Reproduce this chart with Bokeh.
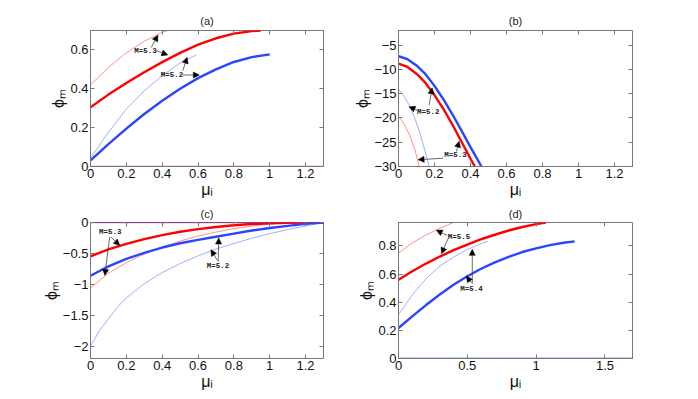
from bokeh.plotting import figure
from bokeh.models import Range1d, FixedTicker, LinearAxis, Arrow, NormalHead, Label
from bokeh.layouts import column, row
from bokeh.embed import file_html
from bokeh.resources import INLINE

# ---------------- data ----------------
# Panel (a)
a_thin_red_x = [0, 0.1, 0.2, 0.3, 0.4, 0.43]
a_thin_red_y = [0.42, 0.51, 0.585, 0.645, 0.69, 0.70]
a_thick_red_x = [0, 0.1, 0.2, 0.3, 0.4, 0.5, 0.6, 0.7, 0.8, 0.9, 0.95]
a_thick_red_y = [0.305, 0.37, 0.43, 0.485, 0.537, 0.585, 0.627, 0.66, 0.684, 0.697, 0.70]
a_thin_blue_x = [0, 0.1, 0.2, 0.3, 0.4, 0.5, 0.59]
a_thin_blue_y = [0.043, 0.176, 0.296, 0.39, 0.467, 0.533, 0.574]
a_thick_blue_x = [0, 0.1, 0.2, 0.3, 0.4, 0.5, 0.6, 0.7, 0.8, 0.9, 1.0]
a_thick_blue_y = [0.031, 0.115, 0.195, 0.27, 0.338, 0.4, 0.455, 0.5, 0.538, 0.563, 0.577]
a_zero_x = [0, 1.3]
a_zero_y = [0, 0]
a_xticks = [0, 0.2, 0.4, 0.6, 0.8, 1.0, 1.2]
a_xlabels = ["0", "0.2", "0.4", "0.6", "0.8", "1", "1.2"]
a_yticks = [0, 0.2, 0.4, 0.6]
a_ylabels = ["0", "0.2", "0.4", "0.6"]
a_text = [("M=5.3", 0.307, 0.592), ("M=5.2", 0.455, 0.471)]
a_arrows = [(0.339, 0.613, 0.376, 0.676), (0.367, 0.596, 0.431, 0.574),
            (0.515, 0.493, 0.539, 0.562), (0.515, 0.471, 0.607, 0.471)]

# Panel (b)
b_thin_red_x = [0, 0.03, 0.06, 0.09, 0.115]
b_thin_red_y = [-19.7, -21.2, -23.4, -26.4, -30]
b_thick_red_x = [0, 0.05, 0.1, 0.15, 0.2, 0.25, 0.3, 0.35, 0.4, 0.424]
b_thick_red_y = [-8.8, -9.5, -10.9, -12.8, -15.3, -18.2, -21.4, -24.9, -28.4, -30]
b_thin_blue_x = [0, 0.03, 0.06, 0.09, 0.12, 0.15, 0.17]
b_thin_blue_y = [-14.1, -15.5, -17.4, -20.0, -23.2, -27.2, -30]
b_thick_blue_x = [0, 0.05, 0.1, 0.15, 0.2, 0.25, 0.3, 0.35, 0.4, 0.461]
b_thick_blue_y = [-7.3, -7.9, -9.2, -11.0, -13.4, -16.2, -19.3, -22.6, -26.0, -30]
b_xticks = [0, 0.2, 0.4, 0.6, 0.8, 1.0, 1.2]
b_xlabels = ["0", "0.2", "0.4", "0.6", "0.8", "1", "1.2"]
b_yticks = [-30, -25, -20, -15, -10, -5]
b_ylabels = ["\u221230", "\u221225", "\u221220", "\u221215", "\u221210", "\u22125"]
b_text = [("M=5.2", 0.165, -18.8), ("M=5.3", 0.317, -27.6)]
b_arrows = [(0.104, -18.4, 0.059, -17.7), (0.17, -17.4, 0.187, -13.8),
            (0.248, -28.3, 0.109, -28.6), (0.322, -26.9, 0.337, -24.8)]

# Panel (c)
c_x = [0, 0.1, 0.2, 0.3, 0.4, 0.5, 0.6, 0.7, 0.8, 0.9, 1.0, 1.1, 1.2, 1.3]
c_thick_red_y = [-0.547, -0.435, -0.345, -0.27, -0.205, -0.15, -0.108, -0.072, -0.045, -0.025, -0.012, -0.004, 0, 0]
c_thick_blue_y = [-0.862, -0.71, -0.59, -0.49, -0.405, -0.335, -0.28, -0.23, -0.18, -0.13, -0.09, -0.055, -0.022, 0]
c_thin_red_y = [-1.06, -0.82, -0.65, -0.51, -0.4, -0.3, -0.22, -0.155, -0.1, -0.058, -0.025, -0.005, 0, 0]
c_thin_blue_x = [0, 0.05, 0.1, 0.15, 0.2, 0.3, 0.4, 0.5, 0.6, 0.7, 0.8, 0.9, 1.0, 1.1, 1.2, 1.3]
c_thin_blue_y = [-2.0, -1.75, -1.56, -1.37, -1.22, -0.99, -0.81, -0.665, -0.54, -0.43, -0.34, -0.255, -0.18, -0.115, -0.055, 0]
c_zero_x = [0, 1.3]
c_zero_y = [0, 0]
c_xticks = [0, 0.2, 0.4, 0.6, 0.8, 1.0, 1.2]
c_xlabels = ["0", "0.2", "0.4", "0.6", "0.8", "1", "1.2"]
c_yticks = [-2, -1.5, -1, -0.5, 0]
c_ylabels = ["\u22122", "\u22121.5", "\u22121", "\u22120.5", "0"]
c_text = [("M=5.3", 0.11, -0.152), ("M=5.2", 0.712, -0.70)]
c_arrows = [(0.113, -0.233, 0.163, -0.369), (0.107, -0.233, 0.08, -0.856),
            (0.713, -0.63, 0.715, -0.25), (0.709, -0.62, 0.672, -0.44)]

# Panel (d)
d_thin_red_x = [0, 0.1, 0.2, 0.3, 0.4]
d_thin_red_y = [0.75, 0.822, 0.878, 0.926, 0.967]
d_thick_red_x = [0, 0.1, 0.2, 0.3, 0.4, 0.5, 0.6, 0.7, 0.8, 0.9, 1.0, 1.07]
d_thick_red_y = [0.56, 0.62, 0.675, 0.725, 0.77, 0.81, 0.848, 0.88, 0.91, 0.935, 0.955, 0.967]
d_thin_blue_x = [0, 0.1, 0.2, 0.3, 0.4, 0.5, 0.6, 0.65]
d_thin_blue_y = [0.312, 0.452, 0.567, 0.657, 0.721, 0.776, 0.817, 0.833]
d_thick_blue_x = [0, 0.1, 0.2, 0.3, 0.4, 0.5, 0.6, 0.7, 0.8, 0.9, 1.0, 1.1, 1.2, 1.28]
d_thick_blue_y = [0.217, 0.30, 0.38, 0.455, 0.525, 0.585, 0.638, 0.683, 0.722, 0.757, 0.783, 0.806, 0.823, 0.833]
d_zero_x = [0, 1.7]
d_zero_y = [0, 0]
d_xticks = [0, 0.5, 1.0, 1.5]
d_xlabels = ["0", "0.5", "1", "1.5"]
d_yticks = [0, 0.2, 0.4, 0.6, 0.8]
d_ylabels = ["0", "0.2", "0.4", "0.6", "0.8"]
d_text = [("M=5.5", 0.44, 0.864), ("M=5.4", 0.53, 0.495)]
d_arrows = [(0.353, 0.876, 0.275, 0.912), (0.36, 0.852, 0.312, 0.745),
            (0.536, 0.531, 0.536, 0.776), (0.529, 0.538, 0.493, 0.586)]

RED = "#ff0000"
BLUE = "#2a45ff"
FONT = "Liberation Sans"
FRAME = "#777777"


def panel(title, xr, yr, xticks, xlabels, yticks, ylabels, width, height, bl, br, bt, bb, tstand):
    p = figure(width=width, height=height, output_backend="svg", toolbar_location=None,
               x_range=Range1d(*xr), y_range=Range1d(*yr),
               min_border_left=bl, min_border_right=br, min_border_top=bt, min_border_bottom=bb,
               title=title)
    p.title.align = "center"
    p.title.text_font = FONT
    p.title.text_font_size = "11px"
    p.title.text_font_style = "normal"
    p.title.text_color = "#222222"
    p.title.standoff = tstand
    p.xgrid.visible = False
    p.ygrid.visible = False
    p.outline_line_color = FRAME
    p.outline_line_width = 1
    p.background_fill_color = "white"
    p.border_fill_color = "white"

    xa = p.xaxis[0]
    ya = p.yaxis[0]
    xa.ticker = FixedTicker(ticks=xticks)
    ya.ticker = FixedTicker(ticks=yticks)
    xa.major_label_overrides = {t: s for t, s in zip(xticks, xlabels)}
    ya.major_label_overrides = {t: s for t, s in zip(yticks, ylabels)}
    xa.axis_label = "\u03bc\u1d62"
    ya.axis_label = "\u03d5\u2098"
    for ax in (xa, ya):
        ax.axis_label_text_font = FONT
        ax.axis_label_text_font_size = "16px"
        ax.axis_label_text_font_style = "normal"
        ax.axis_label_text_color = "#111111"
        ax.axis_label_standoff = 0
        ax.major_label_text_font = FONT
        ax.major_label_text_font_size = "13px"
        ax.major_label_text_color = "#111111"
        ax.major_label_standoff = 2
        ax.major_tick_in = 4
        ax.major_tick_out = 0
        ax.minor_tick_line_color = None
        ax.axis_line_color = FRAME
        ax.major_tick_line_color = FRAME

    # tick marks only (no labels) on the top and right edges, like the reference box
    top = LinearAxis(ticker=FixedTicker(ticks=xticks), major_label_text_color=None,
                     major_label_standoff=0, major_tick_in=4, major_tick_out=0,
                     minor_tick_line_color=None, axis_line_color=None,
                     major_tick_line_color=FRAME)
    right = LinearAxis(ticker=FixedTicker(ticks=yticks), major_label_text_color=None,
                       major_label_standoff=0, major_tick_in=4, major_tick_out=0,
                       minor_tick_line_color=None, axis_line_color=None,
                       major_tick_line_color=FRAME)
    p.add_layout(top, "above")
    p.add_layout(right, "right")
    return p


def annotate(p, texts, arrows):
    for (x0, y0, x1, y1) in arrows:
        p.add_layout(Arrow(x_start=x0, y_start=y0, x_end=x1, y_end=y1,
                           line_color="#444444", line_width=0.8,
                           end=NormalHead(size=6, fill_color="black", line_color="black", line_width=0.5)))
    for (t, x, y) in texts:
        p.add_layout(Label(x=x, y=y, text=t, text_font="Liberation Mono", text_font_size="7.5px",
                           text_font_style="bold", text_color="#222222",
                           text_align="center", text_baseline="middle"))


THIN = 0.8
THIN_ALPHA = 0.55
THICK = 2.4

# (a)
pa = panel("(a)", (0, 1.3), (0, 0.7), a_xticks, a_xlabels, a_yticks, a_ylabels,
           348, 202, 90, 25, 30, 36, 7)
pa.line(a_zero_x, a_zero_y, color=RED, line_width=1.5, alpha=0.6)
pa.line(a_zero_x, a_zero_y, color=BLUE, line_width=1.2, alpha=0.7)
pa.line(a_thin_red_x, a_thin_red_y, color=RED, line_width=THIN, alpha=THIN_ALPHA)
pa.line(a_thick_red_x, a_thick_red_y, color=RED, line_width=THICK)
pa.line(a_thin_blue_x, a_thin_blue_y, color=BLUE, line_width=THIN, alpha=THIN_ALPHA)
pa.line(a_thick_blue_x, a_thick_blue_y, color=BLUE, line_width=THICK)
annotate(pa, a_text, a_arrows)

# (b)
pb = panel("(b)", (0, 1.3), (-30, -2), b_xticks, b_xlabels, b_yticks, b_ylabels,
           334, 202, 50, 50, 30, 36, 7)
pb.line(b_thin_red_x, b_thin_red_y, color=RED, line_width=THIN, alpha=THIN_ALPHA)
pb.line(b_thick_red_x, b_thick_red_y, color=RED, line_width=THICK)
pb.line(b_thin_blue_x, b_thin_blue_y, color=BLUE, line_width=THIN, alpha=THIN_ALPHA)
pb.line(b_thick_blue_x, b_thick_blue_y, color=BLUE, line_width=THICK)
annotate(pb, b_text, b_arrows)

# (c)
pc = panel("(c)", (0, 1.3), (-2.2, 0), c_xticks, c_xlabels, c_yticks, c_ylabels,
           348, 192, 90, 25, 19, 36, 6)
pc.line(c_zero_x, c_zero_y, color=RED, line_width=1.5, alpha=0.6)
pc.line(c_zero_x, c_zero_y, color=BLUE, line_width=1.2, alpha=0.7)
pc.line(c_x, c_thin_red_y, color=RED, line_width=THIN, alpha=THIN_ALPHA)
pc.line(c_x, c_thick_red_y, color=RED, line_width=THICK)
pc.line(c_thin_blue_x, c_thin_blue_y, color=BLUE, line_width=THIN, alpha=THIN_ALPHA)
pc.line(c_x, c_thick_blue_y, color=BLUE, line_width=THICK)
annotate(pc, c_text, c_arrows)

# (d)
pd_ = panel("(d)", (0, 1.7), (0, 0.967), d_xticks, d_xlabels, d_yticks, d_ylabels,
            334, 192, 50, 50, 19, 36, 6)
pd_.line(d_zero_x, d_zero_y, color=BLUE, line_width=1.5)
pd_.line(d_thin_red_x, d_thin_red_y, color=RED, line_width=THIN, alpha=THIN_ALPHA)
pd_.line(d_thick_red_x, d_thick_red_y, color=RED, line_width=THICK)
pd_.line(d_thin_blue_x, d_thin_blue_y, color=BLUE, line_width=THIN, alpha=THIN_ALPHA)
pd_.line(d_thick_blue_x, d_thick_blue_y, color=BLUE, line_width=THICK)
annotate(pd_, d_text, d_arrows)

layout = column(row(pa, pb), row(pc, pd_))
open("out.html", "w").write(file_html(layout, INLINE))
